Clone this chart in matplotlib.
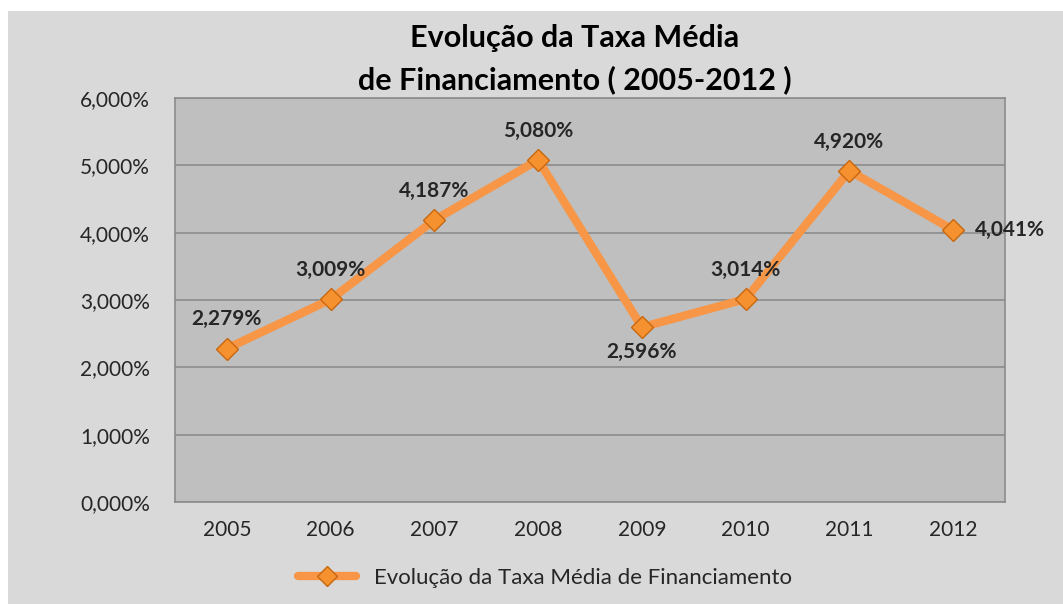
import matplotlib
matplotlib.use("Agg")
import matplotlib.pyplot as plt
from matplotlib.patches import Rectangle

years = ["2005", "2006", "2007", "2008", "2009", "2010", "2011", "2012"]
values = [2.279, 3.009, 4.187, 5.080, 2.596, 3.014, 4.920, 4.041]
label_pos = ["above", "above", "above", "above", "below", "above", "above", "right"]
yticks = [0, 1, 2, 3, 4, 5, 6]

plt.rcParams['font.family'] = ['Lato', 'DejaVu Sans']

W, H = 1063, 604
fig = plt.figure(figsize=(W / 100, H / 100), dpi=100)
fig.patch.set_facecolor("white")
bg = Rectangle((8 / W, 0), 1 - 8 / W, 1 - 11 / H, transform=fig.transFigure,
               facecolor="#d9d9d9", edgecolor="none", zorder=-10)
fig.patches.append(bg)

ax = fig.add_axes([175 / W, 1 - 502 / H, (1005 - 175) / W, (502 - 98) / H])
ax.set_facecolor("#bfbfbf")
x = list(range(len(years)))
ax.plot(x, values, color="#f79646", lw=6, solid_capstyle="round", solid_joinstyle="round",
        marker="D", markersize=11.5, markerfacecolor="#f5912f", markeredgecolor="#c9670f",
        markeredgewidth=1.0, label="Evolução da Taxa Média de Financiamento", zorder=3)

for xi, v, pos in zip(x, values, label_pos):
    txt = f"{v:.3f}%".replace(".", ",")
    kw = dict(textcoords="offset points", fontsize=15, fontweight="bold", color="#262626")
    if pos == "above":
        ax.annotate(txt, (xi, v), xytext=(0, 21), ha="center", va="center", **kw)
    elif pos == "below":
        ax.annotate(txt, (xi, v), xytext=(0, -18), ha="center", va="center", **kw)
    else:
        ax.annotate(txt, (xi, v), xytext=(16, 0), ha="left", va="center", **kw)

ax.set_xlim(-0.5, len(years) - 0.5)
ax.set_ylim(0, 6)
ax.set_yticks(yticks)
ax.set_yticklabels([f"{t:.3f}%".replace(".", ",") for t in yticks], fontsize=15, color="#262626")
ax.set_xticks(x)
ax.set_xticklabels(years, fontsize=15, color="#262626")
ax.tick_params(length=0)
ax.tick_params(axis="y", pad=18)
ax.tick_params(axis="x", pad=13)
ax.grid(axis="y", color="#8c8c8c", lw=1.2)
ax.set_axisbelow(True)
for s in ax.spines.values():
    s.set_color("#8c8c8c")
    s.set_linewidth(1.2)

fig.text(575 / W, 1 - 38 / H, "Evolução da Taxa Média", ha="center", va="center",
         fontsize=22, fontweight="bold", color="black")
fig.text(575 / W, 1 - 80 / H, "de Financiamento ( 2005-2012 )", ha="center", va="center",
         fontsize=22, fontweight="bold", color="black")

leg = fig.legend(loc="center", bbox_to_anchor=(545 / W, 1 - 578 / H), frameon=False,
                 fontsize=16, handlelength=2.6, markerscale=0.85, labelcolor="#262626")

fig.savefig("out.png", dpi=100, facecolor=fig.get_facecolor())
